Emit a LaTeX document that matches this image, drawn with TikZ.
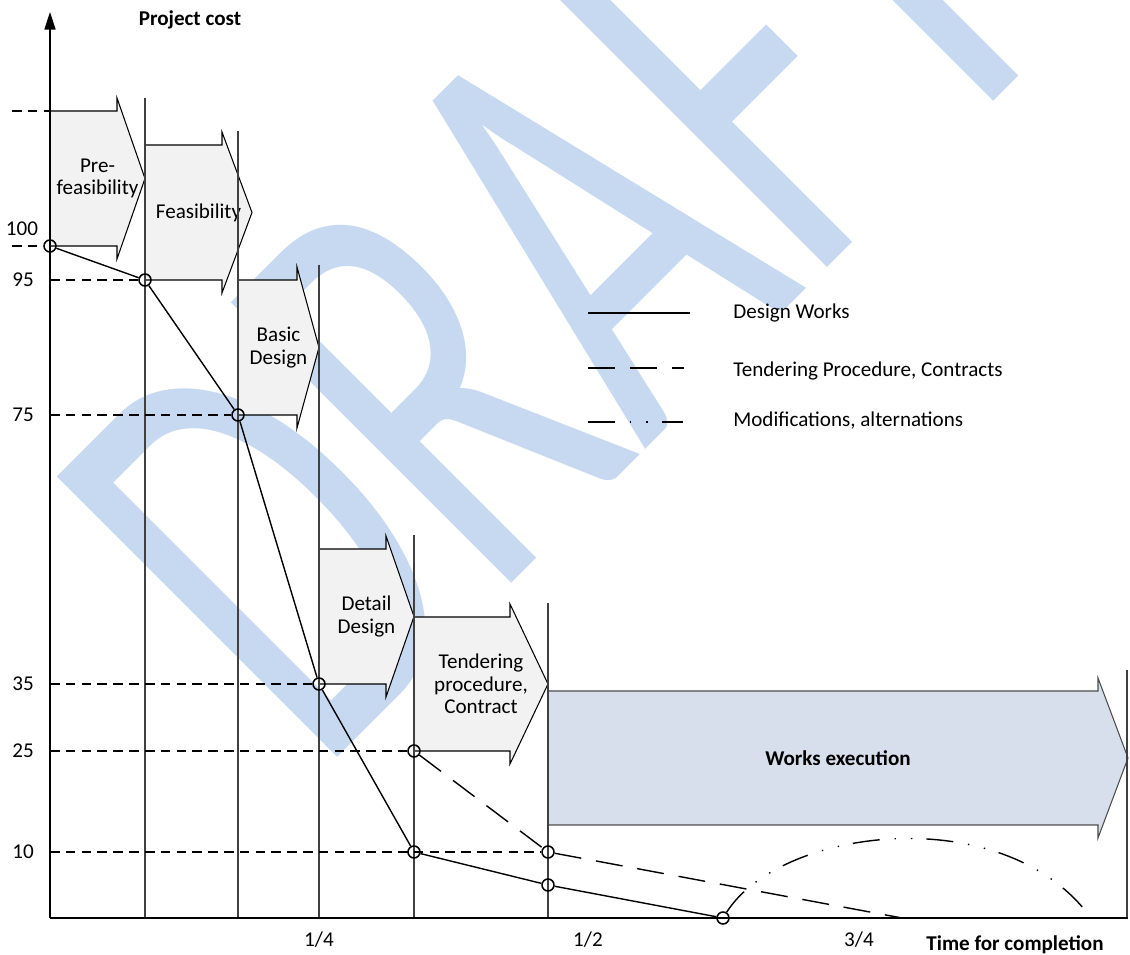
\documentclass[tikz,border=0pt]{standalone}
\usepackage{fontspec}
\setmainfont{Carlito}
\usepackage{graphicx}
\usepackage{tikz}
\usetikzlibrary{arrows.meta}
\definecolor{draftblue}{RGB}{198,217,240}
\definecolor{phasegray}{RGB}{242,242,242}
\definecolor{worksblue}{RGB}{214,223,235}
\newcommand{\phasearrow}[8][]{\draw[phasebox,#1] (#3,#6) -- (#4,#6) -- (#4,#6-13) -- (#5,{(#6+#7)/2}) -- (#4,#7+13) -- (#4,#7) -- (#3,#7) -- cycle;\node[phaselabel] (#2) at ({(#3+#5)/2},{(#6+#7)/2}) {#8};}
\tikzset{
  draftmark/.style={text=draftblue, inner sep=0pt, font=\fontsize{227}{227}\selectfont},
  phasebox/.style={draw=black, line width=0.6pt, fill=phasegray},
  phaselabel/.style={align=center, inner sep=0pt, font=\fontsize{12}{12.8}\selectfont},
  gridline/.style={draw=black!75, line width=0.6pt},
  axisline/.style={line width=0.7pt},
  level/.style={line width=0.6pt, dash pattern=on 5.5pt off 3.5pt},
  design/.style={line width=0.8pt},
  tender/.style={line width=0.8pt, dash pattern=on 15.4pt off 8.5pt},
  modif/.style={line width=0.8pt, dash pattern=on 15.4pt off 8.5pt on 0.8pt off 8.5pt on 0.8pt off 8pt},
  costpt/.style={circle, draw, line width=0.9pt, minimum size=6.8pt, inner sep=0pt},
  ticklab/.style={font=\fontsize{12}{14}\selectfont},
  legtext/.style={anchor=west, inner sep=0pt, font=\fontsize{12}{14}\selectfont},
  axistitle/.style={font=\bfseries\fontsize{12}{14}\selectfont}
}

\begin{document}
\begin{tikzpicture}[x=0.02cm, y=-0.02cm]
\useasboundingbox (0,0) rectangle (1130,955);
% watermark
\node[draftmark, rotate=45, anchor=base west] (draft) at (318,777) {\scalebox{1}[1.55]{DRAFT}};
% project phases
\phasearrow{prefeas}{50}{117}{145}{111}{246}{Pre-\\feasibility}
\phasearrow{feas}{145}{222}{252}{145}{280}{Feasibility}
\phasearrow{basic}{238}{297}{319}{280}{415}{Basic\\Design}
\phasearrow{detail}{319}{386}{414}{549}{684}{Detail\\Design}
\phasearrow{tender}{414}{510}{548}{617}{751}{Tendering\\procedure,\\Contract}
\phasearrow[fill=worksblue, draw=black!70]{works}{548}{1098}{1128}{691}{825}{\bfseries Works execution}
\foreach \gx/\gtop in {145/98,238/131,319/265,414/535,548/603,1127/670}
  \draw[gridline] (\gx,\gtop) -- (\gx,918);
% axes
\coordinate (origin) at (50,918);
\coordinate (ytip) at (50,12);
\coordinate (xend) at (1128,918);
\draw[axisline, -{Triangle[width=6.3pt, length=10pt]}] (origin) -- (ytip);
\draw[axisline] (origin) -- (xend);
\node[axistitle] (ytitle) at (190,20) {Project cost};
\node[axistitle] (xtitle) at (1015,945) {Time for completion};
\node[ticklab] (tq1) at (319,940) {1/4};
\node[ticklab] (tq2) at (588,940) {1/2};
\node[ticklab] (tq3) at (859,940) {3/4};
% cost points
\node[costpt] (p100) at (50,246) {};
\node[costpt] (p95) at (145,280) {};
\node[costpt] (p75) at (238,415) {};
\node[costpt] (p35) at (319,684) {};
\node[costpt] (p25) at (414,751) {};
\node[costpt] (p10) at (414,852) {};
\node[costpt] (q10) at (548,852) {};
\node[costpt] (q5) at (548,885) {};
\node[costpt] (p0) at (723,918) {};
\coordinate (tEnd) at (902,918);
\coordinate (mEnd) at (1088,914);
\node[ticklab] (l100) at (22,229) {100};
\node[ticklab] (l95) at (23,280) {95};
\node[ticklab] (l75) at (23,415) {75};
\node[ticklab] (l35) at (23,684) {35};
\node[ticklab] (l25) at (23,751) {25};
\node[ticklab] (l10) at (23,852) {10};
\draw[level] (12,111) -- (50,111);
\draw[level] ([xshift=-0.76cm]p100.center) -- (p100);
\draw[level] (origin |- p95) -- (p95);
\draw[level] (origin |- p75) -- (p75);
\draw[level] (origin |- p35) -- (p35);
\draw[level] (origin |- p25) -- (p25);
\draw[level] (origin |- q10) -- (q10);
% cost curves
\draw[design] (p100) -- (p95) -- (p75) -- (p35) -- (p10) -- (q5) -- (p0);
\draw[tender] (p25) -- (q10) -- (tEnd);
\draw[modif] (p0) .. controls (780,828) and (1000,800) .. (mEnd);
% legend
\coordinate (leg1) at (588,313);
\coordinate (leg2) at (588,368);
\coordinate (leg3) at (588,422);
\draw[design] (leg1) -- ++(102,0);
\draw[tender] (leg2) -- ++(96,0);
\draw[modif] (leg3) -- ++(95,0);
\node[legtext] (legDesign) at (733,313) {Design Works};
\node[legtext] (legTender) at (733,371) {Tendering Procedure, Contracts};
\node[legtext] (legModif) at (733,421) {Modifications, alternations};
\end{tikzpicture}
\end{document}
